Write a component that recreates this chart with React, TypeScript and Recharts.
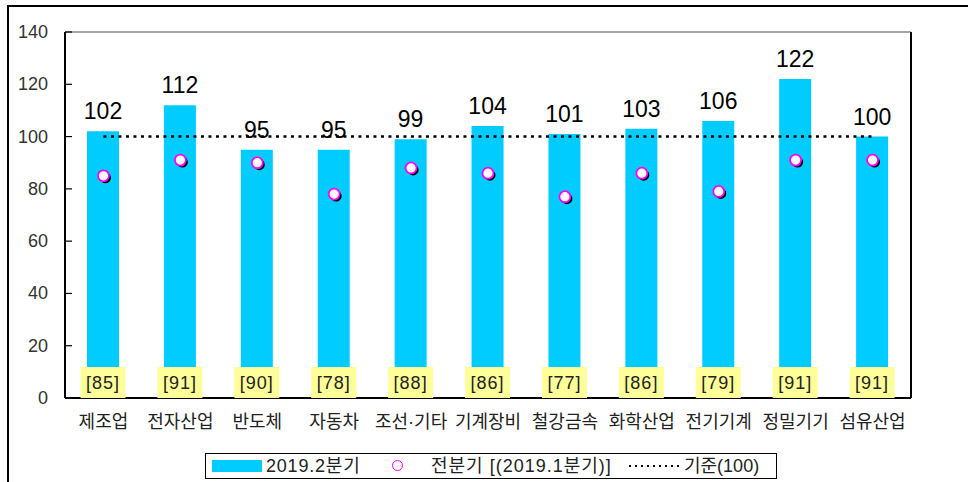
import { ComposedChart, Bar, Line, Scatter, XAxis, YAxis, LabelList, ReferenceLine } from 'recharts'

// categories and values
const categories = ['제조업', '전자산업', '반도체', '자동차', '조선·기타', '기계장비', '철강금속', '화학산업', '전기기계', '정밀기기', '섬유산업']
const current = [102, 112, 95, 95, 99, 104, 101, 103, 106, 122, 100]
const previous = [85, 91, 90, 78, 88, 86, 77, 86, 79, 91, 91]
const baseline = [100, 100, 100, 100, 100, 100, 100, 100, 100, 100, 100]
const yTicks = [0, 20, 40, 60, 80, 100, 120, 140]
const bandTicks = [1, 2, 3, 4, 5, 6, 7, 8, 9, 10]

const data = categories.map((name, i) => ({
  name,
  current: current[i],
  previous: previous[i],
  base: baseline[i],
}))

const FONT = '"Liberation Sans", "Noto Sans CJK KR", sans-serif'

// white dot with magenta rim and a black drop shadow
function PrevDot(props: any) {
  const { cx, cy } = props
  if (cx == null || cy == null) return null
  return (
    <g>
      <circle cx={cx + 2} cy={cy + 2} r={5.5} fill="#000" />
      <circle cx={cx} cy={cy} r={5.5} fill="#fff" stroke="#FF00FF" strokeWidth={1.8} />
    </g>
  )
}

// yellow "[85]" tag sitting on the x axis
function PrevTag(props: any) {
  const { x, y, width, height, index } = props
  const cx = x + width / 2
  const bottom = y + height
  return (
    <g>
      <rect x={cx - 22.5} y={bottom - 31} width={45} height={31} fill="#FFFF99" />
      <text x={cx} y={bottom - 9} textAnchor="middle" fontSize={18} letterSpacing={1} fill="#222" fontFamily={FONT}>
        [{previous[index]}]
      </text>
    </g>
  )
}

function CategoryTick(props: any) {
  const { x, y, payload } = props
  return (
    <text x={x} y={y + 22} textAnchor="middle" fontSize={18} fill="#222" fontFamily={FONT}>
      {payload.value}
    </text>
  )
}

// y ticks: short mark pointing into the plot, label 17px away outside
function LeftTick(props: any) {
  const { x, y, payload } = props
  return (
    <g>
      <line x1={x} y1={y} x2={x + 7} y2={y} stroke="#000" strokeWidth={1.2} />
      <text x={x - 17} y={y + 6} textAnchor="end" fontSize={18} fill="#333" fontFamily={FONT}>
        {payload.value}
      </text>
    </g>
  )
}

function RightTick(props: any) {
  const { x, y, payload } = props
  return (
    <g>
      <line x1={x - 5} y1={y} x2={x} y2={y} stroke="#000" strokeWidth={1.2} />
      <text x={x + 17} y={y + 6} textAnchor="start" fontSize={18} fill="#333" fontFamily={FONT}>
        {payload.value}
      </text>
    </g>
  )
}

export default function App() {
  return (
    <div style={{ position: 'absolute', left: 0, top: 0, width: 968, height: 482, background: '#fff', overflow: 'hidden' }}>
      <div style={{ position: 'absolute', left: 7, top: 5, width: 980, height: 500, border: '2px solid #000', boxSizing: 'border-box' }} />
      <div style={{ position: 'absolute', left: 0, top: 0 }}>
        <ComposedChart width={968} height={482} data={data} margin={{ top: 32, right: 0, left: 0, bottom: 54 }}>
          <XAxis
            dataKey="name"
            xAxisId="cat"
            axisLine={{ stroke: '#000', strokeWidth: 2 }}
            tickLine={false}
            tick={<CategoryTick />}
            height={30}
            interval={0}
          />
          {/* extra number axis only for the small ticks between bands */}
          <XAxis
            xAxisId="band"
            type="number"
            domain={[0, 11]}
            ticks={bandTicks}
            allowDataOverflow
            mirror
            axisLine={false}
            tick={false}
            tickLine={{ stroke: '#000', strokeWidth: 1.5 }}
            tickSize={5}
          />
          <YAxis
            yAxisId="l"
            domain={[0, 140]}
            ticks={yTicks}
            width={65}
            axisLine={{ stroke: '#000', strokeWidth: 2 }}
            tickLine={false}
            tickSize={0}
            tickMargin={0}
            tick={<LeftTick />}
          />
          <YAxis
            yAxisId="r"
            orientation="right"
            domain={[0, 140]}
            ticks={yTicks}
            width={57}
            axisLine={{ stroke: '#000', strokeWidth: 2 }}
            tickLine={false}
            tickSize={0}
            tickMargin={0}
            tick={<RightTick />}
          />
          <ReferenceLine y={140} yAxisId="l" xAxisId="cat" stroke="#888" strokeWidth={1.5} />
          <Bar dataKey="current" xAxisId="cat" yAxisId="l" fill="#00CCFF" barSize={32} isAnimationActive={false}>
            <LabelList dataKey="current" position="top" offset={12} fontSize={23} fill="#000" fontFamily={FONT} />
            <LabelList dataKey="previous" content={<PrevTag />} />
          </Bar>
          <Line
            dataKey="base"
            xAxisId="cat"
            yAxisId="l"
            stroke="#000"
            strokeWidth={2.5}
            strokeDasharray="3 4.5"
            dot={false}
            activeDot={false}
            isAnimationActive={false}
          />
          <Scatter dataKey="previous" xAxisId="cat" yAxisId="l" shape={<PrevDot />} isAnimationActive={false} />
        </ComposedChart>
      </div>
      {/* legend box */}
      <div
        style={{
          position: 'absolute', left: 205, top: 453, width: 572, height: 26, boxSizing: 'border-box',
          border: '1.5px solid #000', fontFamily: FONT, fontSize: 18, color: '#222', lineHeight: '22px',
        }}
      >
        <div style={{ position: 'absolute', left: 6, top: 6, width: 50, height: 12, background: '#00CCFF' }} />
        <div style={{ position: 'absolute', left: 60, top: 1, whiteSpace: 'nowrap', letterSpacing: 0.8 }}>2019.2분기</div>
        <div style={{ position: 'absolute', left: 186, top: 6, width: 9, height: 9, borderRadius: '50%', border: '1.5px solid #FF00FF' }} />
        <div style={{ position: 'absolute', left: 225, top: 1, whiteSpace: 'nowrap', letterSpacing: 1 }}>전분기 [(2019.1분기)]</div>
        <svg style={{ position: 'absolute', left: 423, top: 10 }} width={50} height={4}>
          <line x1={0} y1={2} x2={50} y2={2} stroke="#000" strokeWidth={2} strokeDasharray="2 4" />
        </svg>
        <div style={{ position: 'absolute', left: 478, top: 1, whiteSpace: 'nowrap' }}>기준(100)</div>
      </div>
    </div>
  )
}
